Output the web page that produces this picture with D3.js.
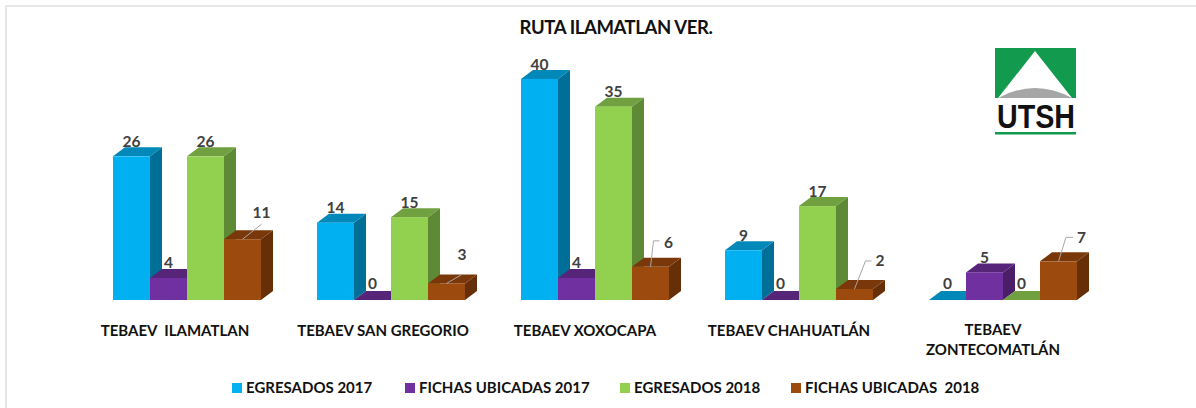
<!DOCTYPE html>
<html><head><meta charset="utf-8">
<script src="https://cdnjs.cloudflare.com/ajax/libs/d3/7.8.5/d3.min.js"></script>
<style>html,body{margin:0;padding:0;background:#fff}svg{display:block}text{font-family:Lato,"Open Sans",sans-serif;font-weight:700;white-space:pre}</style>
</head><body><div id="c"></div>
<script>
const chartTitle = "RUTA ILAMATLAN VER.";
const categories = [["TEBAEV  ILAMATLAN"],["TEBAEV SAN GREGORIO"],["TEBAEV XOXOCAPA"],["TEBAEV CHAHUATLÁN"],["TEBAEV","ZONTECOMATLÁN"]];
const seriesNames = ["EGRESADOS 2017","FICHAS UBICADAS 2017","EGRESADOS 2018","FICHAS UBICADAS  2018"];
const egresados2017 = [26,14,40,9,0];
const fichas2017 = [4,0,4,0,5];
const egresados2018 = [26,15,35,17,0];
const fichas2018 = [11,3,6,2,7];
const seriesValues = [egresados2017,fichas2017,egresados2018,fichas2018];
const frontColors = ["#00b0f0","#7030a0","#92d050","#9c4a0e"];
const topColors = ["#0088b8","#562478","#70a040","#7a380a"];
const sideColors = ["#006f98","#4a1f68","#5f8a35","#662f08"];

const W=1196,H=408,depthX=12,depthY=9;
const svg=d3.select("#c").append("svg").attr("width",W).attr("height",H);
svg.append("path").attr("d",`M6,${H}V6H${W}`).attr("fill","none").attr("stroke","#e6e6e6").attr("stroke-width",2);

svg.append("text").attr("x",616).attr("y",34).attr("text-anchor","middle").attr("font-size",18.5).attr("letter-spacing",-0.4).attr("fill","#111").text(chartTitle);

const y=d3.scaleLinear().domain([0,40]).range([300,79]);
const x0=d3.scaleBand().domain(d3.range(categories.length)).range([113,1077]).paddingInner(56/204).paddingOuter(0);
const x1=d3.scaleBand().domain(d3.range(seriesNames.length)).range([0,x0.bandwidth()]);

seriesValues.forEach((vals,s)=>{
  const g=svg.append("g");
  vals.forEach((v,c)=>{
    const l=x0(c)+x1(s),r=l+x1.bandwidth(),t=y(v),b=y(0);
    g.append("path").attr("fill",sideColors[s]).attr("d",`M${r},${t}l${depthX},${-depthY}V${b-depthY}L${r},${b}Z`);
    g.append("path").attr("fill",topColors[s]).attr("d",`M${l},${t}l${depthX},${-depthY}H${r+depthX}L${r},${t}Z`);
    g.append("rect").attr("x",l).attr("y",t).attr("width",r-l).attr("height",b-t).attr("fill",frontColors[s]);
  });
});

// leader lines on the brown series: elbow end offset from bar centre / bar top, then label placement
const leaderEnd=[[19,-15,0],[15.5,-9,0],[3,-26,6],[11,-28,6],[7.5,-24,7]];
const leaderLabel=[[19,-21.5],[15.5,-23],[18,-19],[25.5,-22.5],[23,-18]];
seriesValues.forEach((vals,s)=>{
  vals.forEach((v,c)=>{
    const cx=x0(c)+x1(s)+x1.bandwidth()/2;
    let tx=cx, ty=y(v)-(v===0?11.5:9.5);
    if(s===3){
      const [dx,dy,h]=leaderEnd[c], t=y(v);
      svg.append("path").attr("d",`M${cx},${t}L${cx+dx},${t+dy}h${h}`).attr("fill","none").attr("stroke","#a6a6a6").attr("stroke-width",1);
      tx=cx+leaderLabel[c][0]; ty=t+leaderLabel[c][1];
    }
    svg.append("text").attr("x",tx).attr("y",ty).attr("text-anchor","middle").attr("font-size",15.5).attr("fill","#404040").text(v);
  });
});

const labelShift=[-12,-8,-10,-10,-10];
categories.forEach((lines,c)=>{
  const cx=x0(c)+x0.bandwidth()/2+labelShift[c];
  const t=svg.append("text").attr("text-anchor","middle").attr("font-size",15).attr("fill","#111");
  lines.forEach((ln,i)=>t.append("tspan").attr("x",cx).attr("y",lines.length>1?(335+i*20):336).text(ln));
});

const legendX=[232,405,620,791];
seriesNames.forEach((n,i)=>{
  svg.append("rect").attr("x",legendX[i]).attr("y",383).attr("width",10).attr("height",10).attr("fill",frontColors[i]);
  svg.append("text").attr("x",legendX[i]+14).attr("y",393).attr("font-size",15).attr("fill","#111").text(n);
});

// logo
const logo=svg.append("g").attr("transform","translate(995,48)");
logo.append("rect").attr("width",81).attr("height",50).attr("fill","#129a4e");
logo.append("path").attr("d","M3,50L40,3L77,50Z").attr("fill","#fff");
logo.append("path").attr("d","M3,50Q40,30 77,50Z").attr("fill","#a6a6a6");
logo.append("text").attr("x",2).attr("y",80).attr("textLength",78).attr("lengthAdjust","spacingAndGlyphs").attr("font-size",33).style("font-family","'Liberation Sans'").attr("fill","#111").text("UTSH");
logo.append("rect").attr("y",84).attr("width",81).attr("height",2.5).attr("fill","#129a4e");
</script></body></html>
